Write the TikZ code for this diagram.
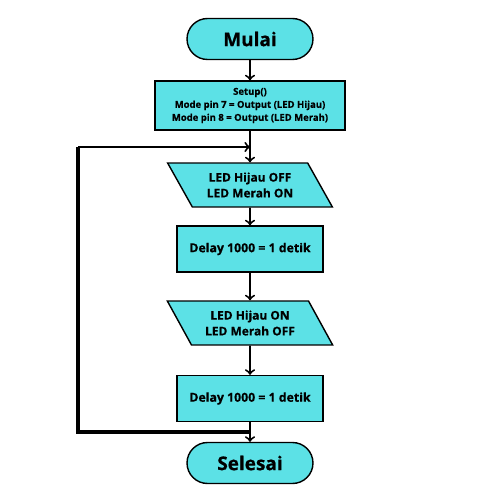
\documentclass[tikz,border=0pt]{standalone}
\usepackage{fontspec}
\setmainfont{Open Sans}[BoldFeatures={FakeBold=0.6}]
\usetikzlibrary{shapes.geometric}
\definecolor{tosca}{HTML}{5CE1E6}
\tikzset{
  box/.style={draw, line width=0.8pt, fill=tosca, align=center, inner sep=1pt},
  terminal/.style={box, rounded corners=0.41cm, minimum width=2.52cm, minimum height=0.82cm,
    font=\fontsize{10.8}{13}\selectfont\bfseries},
  process/.style={box, minimum width=2.92cm, minimum height=0.92cm,
    font=\fontsize{7}{8}\selectfont\bfseries},
  io/.style={box, trapezium, trapezium left angle=124, trapezium right angle=56,
    trapezium stretches=true, minimum width=3.32cm, minimum height=0.88cm,
    font=\fontsize{6.8}{9}\selectfont\bfseries},
  flow/.style={->, line width=1.1pt}
}
\begin{document}
\begin{tikzpicture}[x=0.02cm, y=-0.02cm]
  \useasboundingbox (0,0) rectangle (500,500);

  % Nodes
  \node[terminal] (mulai) at (250,39) {Mulai};
  \node[process, minimum width=3.8cm, minimum height=0.98cm,
    font=\fontsize{5.4}{7.4}\selectfont\bfseries] (setup) at (250,105.5)
    {Setup()\\Mode pin 7 = Output (LED Hijau)\\Mode pin 8 = Output (LED Merah)};
  \node[io] (out1) at (250,185) {LED Hijau OFF\\LED Merah ON};
  \node[process] (delay1) at (250,249) {Delay 1000 = 1 detik};
  \node[io] (out2) at (250,323) {LED Hijau ON\\LED Merah OFF};
  \node[process] (delay2) at (250,398.5) {Delay 1000 = 1 detik};
  \node[terminal] (selesai) at (250,463) {Selesai};

  % Loop corners
  \coordinate (loopTop) at (78,147);
  \coordinate (loopBot) at (78,432);
  \coordinate (joinTop) at (250,147);
  \coordinate (joinBot) at (250,432);

  % Arrows
  \draw[flow] (mulai) -- (setup);
  \draw[flow] (setup) -- (out1);
  \draw[flow] (out1) -- (delay1);
  \draw[flow] (delay1) -- (out2);
  \draw[flow] (out2) -- (delay2);
  \draw[flow] (delay2) -- (selesai);

  % Loop back
  \draw[line width=2.2pt] (joinBot) -- (loopBot) -- (loopTop);
  \draw[flow] (loopTop) -- (joinTop);
\end{tikzpicture}
\end{document}
